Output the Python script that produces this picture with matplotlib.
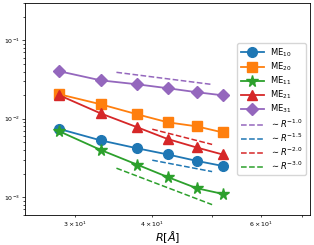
import matplotlib
matplotlib.use("Agg")
import matplotlib.pyplot as plt
import numpy as np

R = [28.3, 33.0, 37.8, 42.4, 47.2, 52.0]
me10 = [0.0074, 0.0053, 0.0042, 0.0035, 0.0029, 0.0025]
me20 = [0.0205, 0.0153, 0.0114, 0.0090, 0.0080, 0.0067]
me11 = [0.0069, 0.0040, 0.0026, 0.0018, 0.0013, 0.0011]
me21 = [0.0199, 0.0117, 0.0078, 0.0055, 0.0043, 0.0035]
me31 = [0.0403, 0.0309, 0.0275, 0.0245, 0.0218, 0.0199]

series_labels = ["ME$_{10}$", "ME$_{20}$", "ME$_{11}$", "ME$_{21}$", "ME$_{31}$"]
markers = ["o", "s", "*", "^", "D"]
colors = ["C0", "C1", "C2", "C3", "C4"]

# reference power laws ~R^-p : exponent, x-range, value at start
ref_p = [1.0, 1.5, 2.0, 3.0]
ref_x0 = [35.0, 40.0, 40.0, 35.0]
ref_x1 = [50.0, 50.0, 50.0, 50.0]
ref_y0 = [0.0391, 0.00296, 0.00735, 0.00234]
ref_colors = ["C4", "C0", "C3", "C2"]

fig = plt.figure(figsize=(3.14, 2.45), dpi=100)
ax = fig.add_axes([0.08, 0.122, 0.907, 0.866])

for ys, lab, m, c in zip([me10, me20, me11, me21, me31], series_labels, markers, colors):
    ms = 8.5 if m == "*" else 7
    if m == "D":
        ms = 6.5
    ax.plot(R, ys, marker=m, color=c, label=lab, lw=1.3, ms=ms)

for p, x0, x1, y0, c in zip(ref_p, ref_x0, ref_x1, ref_y0, ref_colors):
    xs = np.array([x0, x1])
    ys = y0 * (xs / x0) ** (-p)
    ax.plot(xs, ys, "--", color=c, lw=1.1, label=r"$\sim R^{-%.1f}$" % p)

ax.set_xscale("log")
ax.set_yscale("log")
ax.set_xlim(24.9, 72)
ax.set_ylim(5.9e-4, 0.3)
ax.tick_params(axis="both", which="both", labelsize=4.5, length=2, width=0.5, pad=2)
ax.tick_params(which="minor", length=1.2)
for s in ax.spines.values():
    s.set_linewidth(0.6)
ax.set_xlabel(r"$R[\AA]$", fontsize=8, labelpad=0)
ax.legend(loc="center right", fontsize=6, handlelength=2.8, borderpad=0.4,
          labelspacing=0.2, handletextpad=0.7, borderaxespad=0.5)

fig.savefig("out.png", dpi=100)
